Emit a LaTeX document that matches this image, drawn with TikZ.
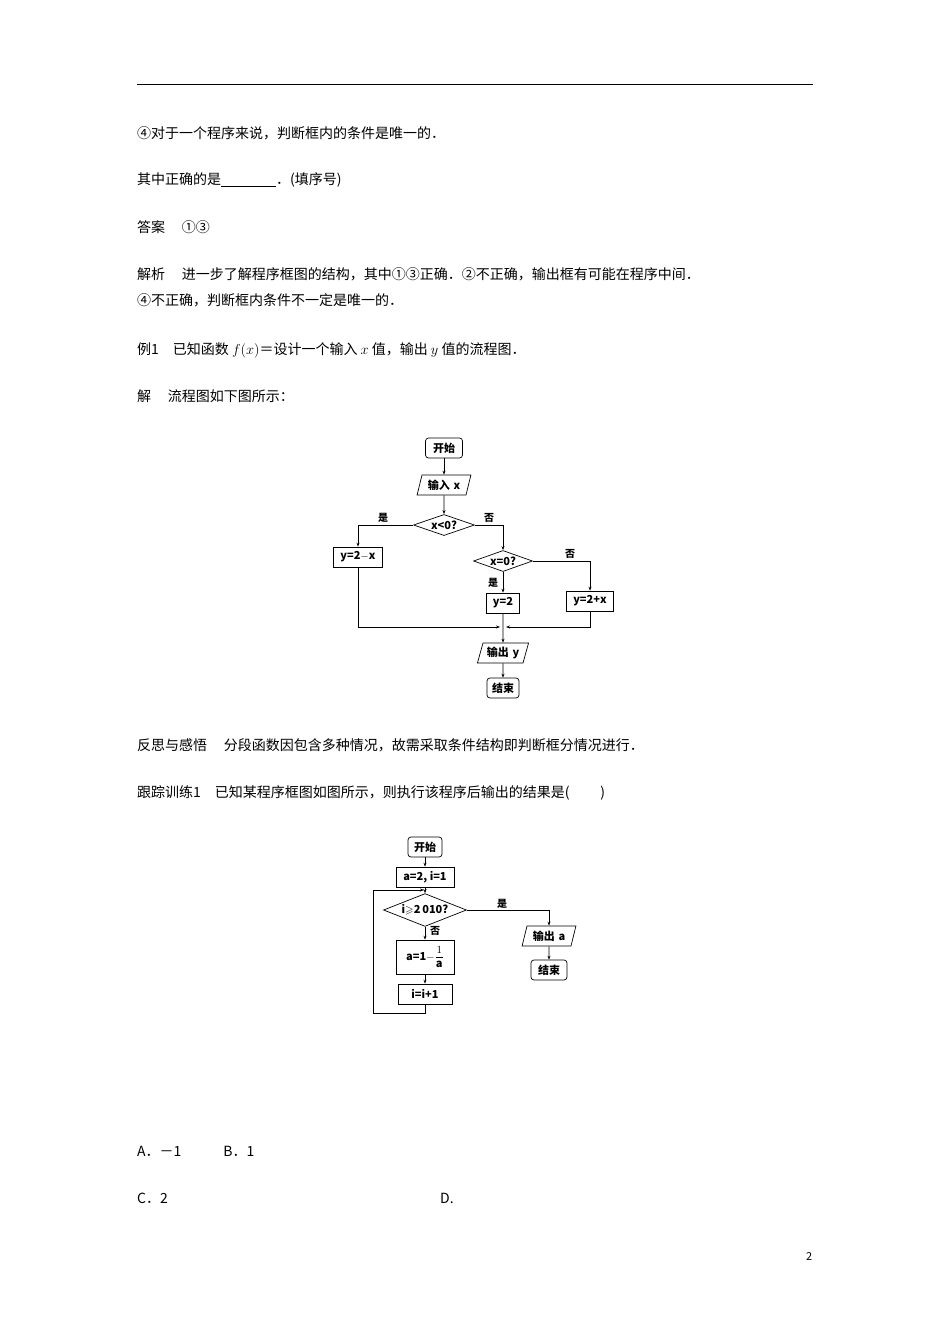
\documentclass[tikz,border=0pt]{standalone}
\usepackage{amsmath,amssymb}
\usepackage{fontspec}
\setmainfont{Noto Sans CJK SC}
\newfontfamily\cjk{Noto Sans CJK SC}
\usetikzlibrary{shapes.geometric,arrows.meta}
\newcommand{\bv}[1]{\textit{\textbf{#1}}}
\begin{document}
\begin{tikzpicture}[x=1pt,y=-1pt,
  txt/.style={anchor=west,inner sep=0pt,font=\fontsize{14}{16}\selectfont},
  fb/.style={draw,line width=0.7pt,inner sep=0pt,font=\fontsize{11}{12}\selectfont\bfseries},
  term/.style={fb,rounded corners=3pt,minimum width=#1,minimum height=20},
  pbox/.style={fb,minimum width=#1,minimum height=20},
  io/.style={fb,trapezium,trapezium left angle=65,trapezium right angle=115,minimum height=20,text width=#1,align=center,trapezium stretches body},
  dec/.style={fb,diamond,aspect=2.1,minimum width=#1},
  lb/.style={font=\fontsize{10}{11}\selectfont\bfseries,inner sep=0pt},
  ar/.style={line width=0.7pt,-{Stealth[length=4pt,width=3pt]}},
  ln/.style={line width=0.7pt}]
\useasboundingbox (0,0) rectangle (950,1344);
\fill[white] (0,0) rectangle (950,1344);
\draw[line width=0.8pt] (137,84) -- (813,84);
\node[txt] (l1) at (137,133) {④对于一个程序来说，判断框内的条件是唯一的．};
\node[txt] (l2) at (137,180) {其中正确的是\underline{\hspace{55pt}}．(填序号)};
\node[txt] (l3) at (137,227) {答案\hspace{1.2em}①③};
\node[txt] (l4) at (137,274) {解析\hspace{1.2em}进一步了解程序框图的结构，其中①③正确．②不正确，输出框有可能在程序中间．};
\node[txt] (l5) at (137,300) {④不正确，判断框内条件不一定是唯一的．};
\node[txt] (l6) at (137,350) {例1\hspace{1em}已知函数 $f(x)$＝设计一个输入 $x$ 值，输出 $y$ 值的流程图．};
\node[txt] (l7) at (137,396) {解\hspace{1.2em}流程图如下图所示：};
\node[txt] (l8) at (137,745) {反思与感悟\hspace{1.2em}分段函数因包含多种情况，故需采取条件结构即判断框分情况进行．};
\node[txt] (l9) at (137,793) {跟踪训练1\hspace{1em}已知某程序框图如图所示，则执行该程序后输出的结果是(\hspace{2.2em})};
\node[txt] (l10) at (137,1151) {A．－1\hspace{3em}B．1};
\node[txt] (l11) at (137,1198) {C．2};
\node[txt] (l12) at (440,1198) {D.};
\node[txt,font=\fontsize{11}{12}\selectfont] (pg) at (806,1256) {2};

% flowchart 1
\node[term=37] (s) at (444,448) {开始};
\node[io=44] (in) at (444,485) {输入 \bv{x}};
\node[dec=61] (d1) at (444,525) {\bv{x}<0?};
\node[pbox=49] (b1) at (358,557) {y=2$-$\bv{x}};
\node[dec=59] (d2) at (503,561) {\bv{x}=0?};
\node[pbox=33] (b2) at (503,603) {y=2};
\node[pbox=47] (b3) at (590,601) {y=2+\bv{x}};
\node[io=40] (out) at (503,653) {输出 y};
\node[term=32] (e) at (503,688) {结束};
\coordinate (m) at (503,627);
\draw[ar] (s) -- (in);
\draw[ar] (in) -- (d1);
\draw[ar] (d1.west) -| (b1.north);
\draw[ar] (d1.east) -| (d2.north);
\draw[ar] (d2.south) -- (b2.north);
\draw[ar] (d2.east) -| (b3.north);
\draw[ar] (b1.south) |- ([xshift=-3]m);
\draw[ar] (b3.south) |- ([xshift=3]m);
\draw[ar] (b2.south) -- (out);
\draw[ar] (out) -- (e);
\node[lb] (t1) at (383,518) {是};
\node[lb] (t2) at (489,518) {否};
\node[lb] (t3) at (570,554) {否};
\node[lb] (t4) at (493,583) {是};

% flowchart 2
\node[term=34] (s2) at (425,847) {开始};
\node[pbox=58] (a2) at (425,877) {\bv{a}=2, \bv{i}=1};
\node[dec=83] (d3) at (425,910) {\bv{i}$\geqslant$2\,010?};
\node[pbox=58,minimum height=34] (b4) at (425,957) {\bv{a}=1$-$$\dfrac{1}{\text{\bv{a}}}$};
\node[pbox=54] (b5) at (425,994) {\bv{i}=\bv{i}+1};
\node[io=44] (o2) at (549,936) {输出 \bv{a}};
\node[term=36] (e2) at (549,970) {结束};
\coordinate (j) at (425,890);
\coordinate (c1) at (373,1013);
\draw[ar] (s2) -- (a2);
\draw[ln] (a2) -- (j);
\draw[ar] (j) -- (d3);
\draw[ar] (d3) -- (b4);
\draw[ar] (b4) -- (b5);
\draw[ar] (d3.east) -| (o2.north);
\draw[ar] (o2) -- (e2);
\draw[ar] (b5.south) |- (c1) |- ([xshift=-1]j);
\node[lb] (t5) at (502,904) {是};
\node[lb] (t6) at (435,931) {否};
\end{tikzpicture}
\end{document}
